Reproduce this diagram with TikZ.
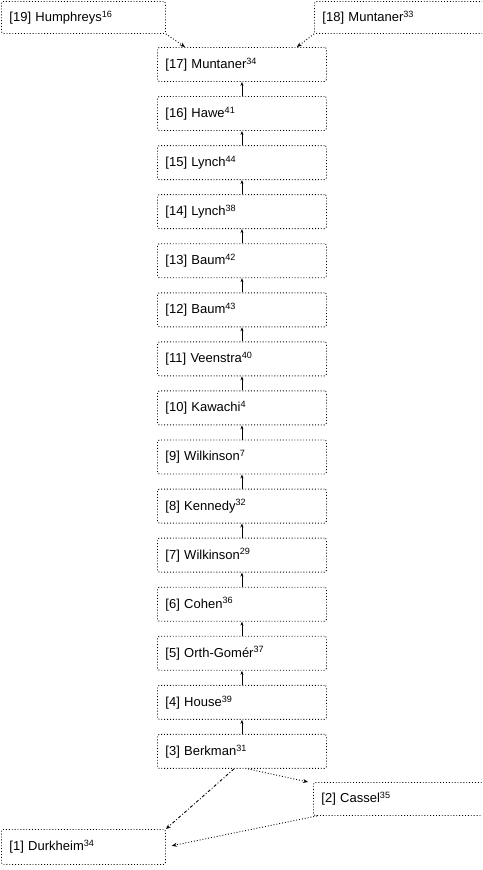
\documentclass[tikz,border=0pt]{standalone}
\usepackage{fontspec}
\setmainfont{Liberation Sans}
\usetikzlibrary{arrows.meta,calc}
\tikzset{
  refbox/.style={draw,dotted,line width=0.9pt,rounded corners=2pt,anchor=north west,
    inner xsep=8pt,inner ysep=0pt,font=\fontsize{13}{15}\selectfont,align=left},
  chainbox/.style={refbox,minimum width=169pt,minimum height=34pt,text width=153pt},
  chainarrow/.style={line width=0.6pt,-{Stealth[length=4pt,width=3pt]}},
  linkarrow/.style={line width=0.9pt,-{Stealth[length=5pt,width=4pt]}}
}
\begin{document}
\begin{tikzpicture}[x=1pt,y=-1pt]
\useasboundingbox (0,0) rectangle (482,870);
\clip (0,0) rectangle (482,870);
\node[refbox,minimum width=164pt,minimum height=32pt,text width=148pt] (n19) at (1,1) {[19] Humphreys\textsuperscript{16}};
\node[refbox,minimum width=176pt,minimum height=32pt,text width=160pt] (n18) at (314,1) {[18] Muntaner\textsuperscript{33}};
\foreach \k/\t in {17/{Muntaner\textsuperscript{34}},16/{Hawe\textsuperscript{41}},15/{Lynch\textsuperscript{44}},14/{Lynch\textsuperscript{38}},13/{Baum\textsuperscript{42}},12/{Baum\textsuperscript{43}},11/{Veenstra\textsuperscript{40}},10/{Kawachi\textsuperscript{4}},9/{Wilkinson\textsuperscript{7}},8/{Kennedy\textsuperscript{32}},7/{Wilkinson\textsuperscript{29}},6/{Cohen\textsuperscript{36}},5/{Orth-Gomér\textsuperscript{37}},4/{House\textsuperscript{39}},3/{Berkman\textsuperscript{31}}}{
  \node[chainbox] (n\k) at (157,{47+(17-\k)*49.07}) {[\k] \t};
}
\node[refbox,minimum width=176pt,minimum height=33pt,text width=160pt] (n2) at (313,782) {[2] Cassel\textsuperscript{35}};
\node[refbox,minimum width=164pt,minimum height=35pt,text width=148pt] (n1) at (1,829) {[1] Durkheim\textsuperscript{34}};
\foreach \k in {3,...,16}{
  \pgfmathtruncatemacro{\j}{\k+1}
  \draw[chainarrow] (n\k.north) -- (n\j.south);
}
\draw[linkarrow,dotted] (n19.south east) -- ($(n17.north west)+(28,0)$);
\draw[linkarrow,dotted] (n18.south west) -- ($(n17.north east)+(-30,0)$);
\draw[linkarrow,dash dot] ($(n3.south)+(-8,0)$) -- (n1.north east);
\draw[linkarrow,dotted] ($(n3.south)+(6,0)$) -- ($(n2.north west)+(-5,0)$);
\draw[linkarrow,dotted,shorten >=6pt] ($(n2.south west)+(4,0)$) -- (n1.east);
\end{tikzpicture}
\end{document}
